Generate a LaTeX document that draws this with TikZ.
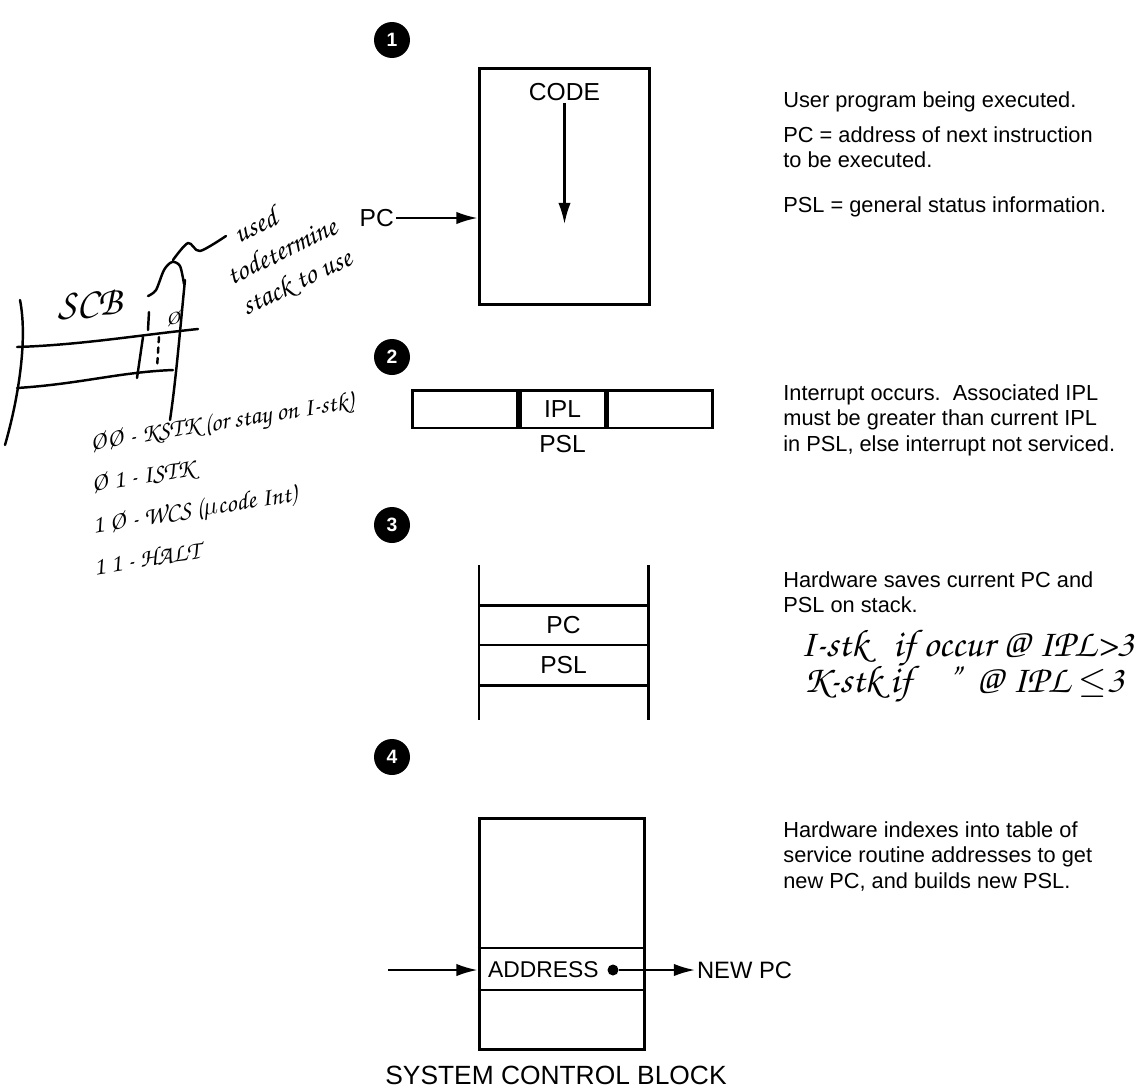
\documentclass[tikz,border=0pt]{standalone}
\usepackage[T1]{fontenc}
\usepackage{fontspec}
\setmainfont{Liberation Sans}
\usetikzlibrary{arrows.meta, positioning, calc}
\newcommand\lblfont{\fontsize{14}{16}\selectfont}
\newcommand\descfont{\fontsize{12.4}{14.6}\selectfont}
\newcommand\handfont[1]{\fontencoding{T1}\fontfamily{pzc}\fontseries{mb}\fontshape{it}\fontsize{#1}{#1}\selectfont}

\begin{document}
\begin{tikzpicture}[
    x=0.02cm, y=-0.02cm,
    stepnum/.style={circle, fill=black, text=white, font=\fontsize{11}{11}\selectfont\bfseries, minimum size=0.72cm, inner sep=0pt},
    frame/.style={draw, line width=1.7pt, inner sep=0pt},
    cell/.style={draw, line width=1.7pt, minimum height=0.76cm, inner sep=0pt, font=\lblfont},
    lbl/.style={font=\lblfont, inner sep=1pt},
    desc/.style={font=\descfont, align=left, anchor=north west, inner sep=0pt},
    arrow/.style={-{Latex[length=12pt, width=7pt]}, line width=1.2pt},
    hand/.style={line width=1.4pt, line cap=round, line join=round},
    note/.style={inner sep=0pt, font=\handfont{#1}}
]
\useasboundingbox (0,0) rectangle (1136,1089);

% Step 1
\node[stepnum] (s1) at (392,40) {1};
\node[frame, minimum width=3.42cm, minimum height=4.74cm] (code) at (564.5,186.5) {};
\node[lbl] (codelbl) at (564.5,92) {CODE};
\coordinate (codeend) at (564.5,224);
\node[lbl, anchor=east] (pc) at (396,218) {PC};
\node[desc] (t1a) at (783,91) {User program being executed.};
\node[desc] (t1b) at (783,126) {PC = address of next instruction\\to be executed.};
\node[desc] (t1c) at (783,196) {PSL = general status information.};

% Step 2
\node[stepnum] (s2) at (392,357) {2};
\node[cell, minimum width=1.7cm] (ipl) at (562.5,409) {IPL};
\node[cell, minimum width=2.1cm, left=0pt of ipl] (pslleft) {};
\node[cell, minimum width=2.1cm, right=0pt of ipl] (pslright) {};
\node[lbl, below=2pt of ipl] (psllbl) {PSL};
\node[desc] (t2) at (783,384) {Interrupt occurs.\ \ Associated IPL\\must be greater than current IPL\\in PSL, else interrupt not serviced.};

% Step 3
\node[stepnum] (s3) at (392,525) {3};
\draw[line width=1.7pt] (479,565) -- (479,720) (648,565) -- (648,720);
\draw[line width=1.7pt] (479,605) -- (648,605) (479,685) -- (648,685);
\draw[line width=1.2pt] (479,645) -- (648,645);
\node[lbl] (stkpc) at (563.5,625) {PC};
\node[lbl] (stkpsl) at (563.5,665) {PSL};
\node[desc] (t3) at (783,571) {Hardware saves current PC and\\PSL on stack.};
\node[note=22, anchor=base west] (istk) at (800,656) {I-stk\ \ \ if occur @ IPL>3};
\node[note=22, anchor=base west] (kstk) at (803,692) {K-stk if\ \ \ \ '' \ @ IPL $\leq$3};

% Step 4
\node[stepnum] (s4) at (392,757) {4};
\node[frame, minimum width=3.32cm, minimum height=4.64cm] (scb) at (562,934) {};
\draw[line width=1.2pt] (scb.west |- 0,948) -- (scb.east |- 0,948) (scb.west |- 0,990) -- (scb.east |- 0,990);
\node[lbl, anchor=west, font=\fontsize{13}{15}\selectfont] (addr) at (486,970) {ADDRESS};
\node[circle, fill=black, minimum size=0.22cm, inner sep=0pt] (dot) at (613,970) {};
\node[lbl, anchor=west, font=\fontsize{13.5}{15}\selectfont] (newpc) at (695,970) {NEW PC};
\coordinate (scbin) at (388,970);
\node[lbl, font=\fontsize{15}{17}\selectfont] (scblbl) at (556,1075) {SYSTEM CONTROL BLOCK};
\node[desc] (t4) at (783,821) {Hardware indexes into table of\\service routine addresses to get\\new PC, and builds new PSL.};

% Arrows
\draw[arrow] (codelbl.south) -- (codeend);
\draw[arrow] (pc) -- (pc -| code.west);
\draw[arrow] (scbin) -- (scbin -| scb.west);
\draw[arrow] (dot) -- (newpc);

% Handwritten SCB sketch
\draw[hand] (20,300) .. controls (28,340) and (18,400) .. (5,445);
\draw[hand] (17,347) .. controls (80,345) and (140,335) .. (198,329);
\draw[hand] (17,388) .. controls (80,384) and (120,372) .. (173,370);
\draw[hand] (143,337) -- (137,378);
\draw[hand, dashed] (159,337) -- (157,368);
\draw[hand] (185,280) .. controls (180,330) and (176,380) .. (170,420);
\draw[hand] (149,312) -- (148,330);
\node[note=23, rotate=3] (scbtxt) at (90,304) {SCB};
\node[note=12] (bit0) at (173,318) {\O};
\draw[hand] plot[smooth] coordinates {(148,296) (156,290) (164,270) (172,262) (180,266) (184,284)};
\draw[hand] plot[smooth] coordinates {(173,260) (188,243) (200,251) (226,236)};
\node[note=16.5, rotate=26, align=left] (used) at (282,252) {\hspace*{14pt}used\\[3pt]todetermine\\[3pt]stack to use};
\node[note=14.5, rotate=9, align=left, anchor=north west] (bits) at (88,432) {\O\O\ - KSTK (or stay on I-stk)\\[9pt]\hspace*{-3pt}\O\ 1 - ISTK\\[9pt]\hspace*{-6pt}1 \O\ - WCS ($\mu$code Int)\\[9pt]\hspace*{-9pt}1 1 - HALT};

\end{tikzpicture}
\end{document}
